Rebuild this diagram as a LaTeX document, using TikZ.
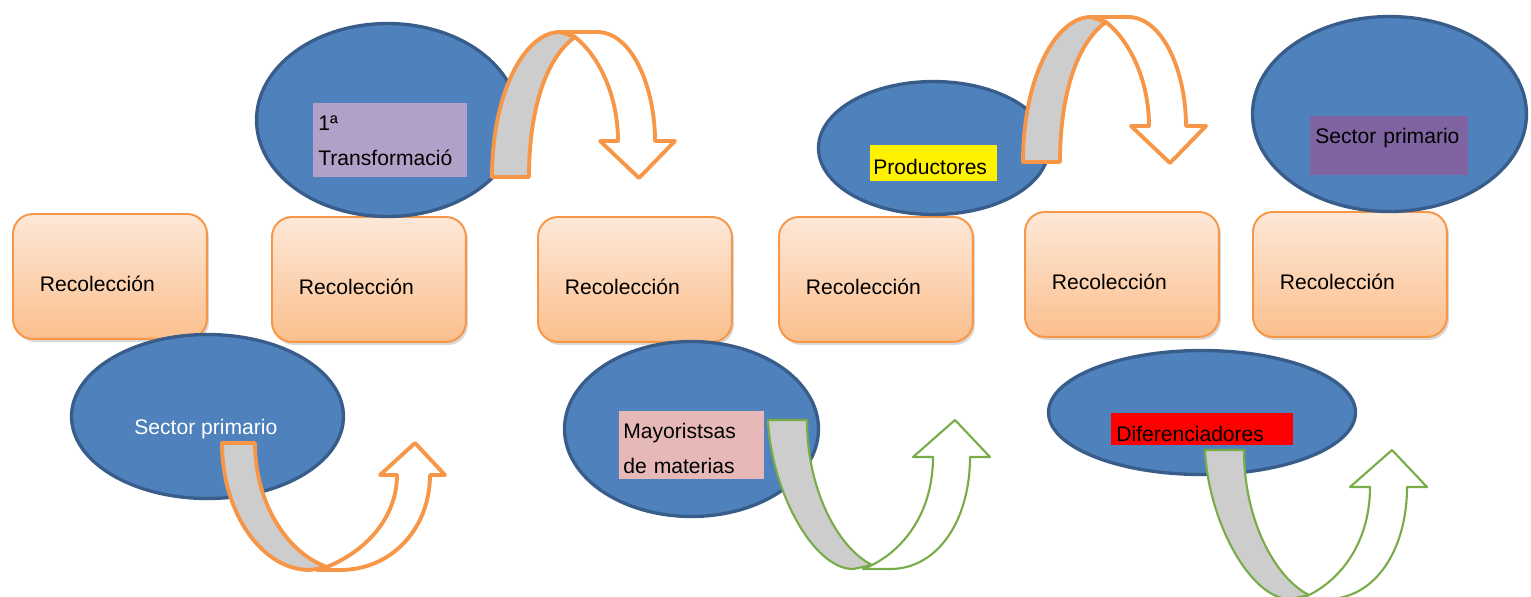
\documentclass[tikz,border=0pt]{standalone}
\usepackage{fontspec}
\setmainfont{Liberation Sans}
\usetikzlibrary{shapes.geometric,shadows}

\definecolor{azul}{HTML}{4F81BD}
\definecolor{azulborde}{HTML}{385D8A}
\definecolor{naranja}{HTML}{F79646}
\definecolor{verde}{HTML}{77AC48}
\definecolor{gris}{HTML}{CDCDCD}
\definecolor{lila}{HTML}{B1A0C7}
\definecolor{rosa}{HTML}{E6B9B8}
\definecolor{morado}{HTML}{8064A2}
\definecolor{melocotonA}{HTML}{FDE8D8}
\definecolor{melocotonB}{HTML}{FBBF8D}

\begin{document}
\begin{tikzpicture}[x=0.02cm, y=-0.02cm, font=\fontsize{12}{19.8}\selectfont,
    caja/.style={draw=naranja, line width=1.1pt, rounded corners=0.4cm,
        top color=melocotonA, bottom color=melocotonB,
        drop shadow={opacity=0.3, shadow xshift=0.04cm, shadow yshift=-0.06cm},
        anchor=north west, text width=2.8cm, inner xsep=0.54cm, inner ysep=0pt,
        align=left, text height=1.56cm, text depth=0.94cm},
    elipse/.style={ellipse, fill=azul, draw=azulborde, line width=1.9pt, inner sep=0pt},
    etiqueta/.style={anchor=north west, inner ysep=0pt, align=left},
    flechanar/.style={draw=naranja, line width=2.2pt, line join=round},
    flechaver/.style={draw=verde, line width=1.2pt, line join=round}]

    \useasboundingbox (0,0) rectangle (1531,596);
    \clip (0,0) rectangle (1531,596);

    % cajas
    \node[caja] (caja1) at (12,213) {Recolección};
    \node[caja] (caja2) at (271,216) {Recolección};
    \node[caja] (caja3) at (537,216) {Recolección};
    \node[caja] (caja4) at (778,216) {Recolección};
    \node[caja] (caja5) at (1024,211) {Recolección};
    \node[caja] (caja6) at (1252,211) {Recolección};

    % elipses
    \node[elipse, minimum width=5.24cm, minimum height=3.86cm] (elip1) at (387.5,120) {};
    \node[elipse, minimum width=5.44cm, minimum height=3.28cm] (elip2) at (207.5,416.5) {};
    \node[elipse, minimum width=5.08cm, minimum height=3.5cm] (elip3) at (691.5,429) {};
    \node[elipse, minimum width=4.6cm, minimum height=2.66cm] (elip4) at (933.5,148) {};
    \node[elipse, minimum width=6.14cm, minimum height=2.48cm] (elip5) at (1202,412.5) {};
    \node[elipse, minimum width=5.48cm, minimum height=3.9cm] (elip6) at (1389.5,114) {};

    % etiquetas
    \node[etiqueta, fill=lila, inner xsep=0.1cm, text width=2.88cm,
        text height=0.54cm, text depth=0.94cm] (transf) at (313,103) {1ª\\Transformació};
    \node[anchor=base west, inner sep=0pt, text=white] (sector) at (134,434) {Sector primario};
    \node[etiqueta, fill=rosa, inner xsep=0.08cm, text width=2.74cm,
        text height=0.54cm, text depth=0.82cm] (mayor) at (619,411) {Mayoristsas\\de materias};
    \node[etiqueta, fill=yellow, inner xsep=0.06cm, text width=2.42cm,
        text height=0.58cm, text depth=0.14cm] (prod) at (870,145) {Productores};
    \node[etiqueta, fill=red, inner xsep=0.1cm, text width=3.44cm,
        text height=0.56cm, text depth=0.08cm] (difer) at (1111,413) {Diferenciadores};
    \node[etiqueta, fill=morado, inner xsep=0.1cm, text width=2.96cm,
        text height=0.54cm, text depth=0.64cm] (sectorb) at (1310,116) {Sector primario};

    % flechas de arriba
    \begin{scope}[shift={(492,177)}]
        \draw[flechanar, fill=white] (68,-145) -- (105,-145) .. controls (140,-145) and (163,-90) .. (163,-36)
            -- (183,-36) -- (147,1) -- (108,-36) -- (126,-36) .. controls (126,-80) and (108,-120) .. (83,-140) -- cycle;
        \draw[flechanar, fill=gris] (0,0) .. controls (0,-85) and (33,-145) .. (68,-145) -- (83,-140)
            .. controls (55,-120) and (37,-70) .. (37,0) -- cycle;
    \end{scope}
    \begin{scope}[shift={(1023,162)}]
        \draw[flechanar, fill=white] (68,-145) -- (105,-145) .. controls (140,-145) and (163,-90) .. (163,-36)
            -- (183,-36) -- (147,1) -- (108,-36) -- (126,-36) .. controls (126,-80) and (108,-120) .. (83,-140) -- cycle;
        \draw[flechanar, fill=gris] (0,0) .. controls (0,-85) and (33,-145) .. (68,-145) -- (83,-140)
            .. controls (55,-120) and (37,-70) .. (37,0) -- cycle;
    \end{scope}

    % flechas de abajo
    \begin{scope}[shift={(222,443)}]
        \draw[flechanar, fill=white] (105,124) .. controls (150,105) and (175,70) .. (175,32) -- (158,32)
            -- (193,0) -- (223,32) -- (208,32) .. controls (208,85) and (170,127) .. (118,127) -- (95,127) -- cycle;
        \draw[flechanar, fill=gris] (0,0) -- (33,0) .. controls (33,60) and (65,110) .. (105,124) -- (88,127)
            .. controls (40,127) and (0,70) .. (0,0) -- cycle;
    \end{scope}
    \begin{scope}[shift={(768,420)}]
        \draw[flechaver, fill=white] (104,145) .. controls (138,128) and (165,90) .. (165,37) -- (145,37)
            -- (187,0) -- (222,37) -- (202,37) .. controls (202,100) and (170,149) .. (122,149) -- (95,149) -- cycle;
        \draw[flechaver, fill=gris] (0,0) -- (39,0) .. controls (39,70) and (70,128) .. (104,145) -- (85,149)
            .. controls (45,149) and (3,70) .. (0,0) -- cycle;
    \end{scope}
    \begin{scope}[shift={(1205,450)}]
        \draw[flechaver, fill=white] (104,145) .. controls (138,128) and (165,90) .. (165,37) -- (145,37)
            -- (187,0) -- (222,37) -- (202,37) .. controls (202,100) and (170,149) .. (122,149) -- (95,149) -- cycle;
        \draw[flechaver, fill=gris] (0,0) -- (39,0) .. controls (39,70) and (70,128) .. (104,145) -- (85,149)
            .. controls (45,149) and (3,70) .. (0,0) -- cycle;
    \end{scope}
\end{tikzpicture}
\end{document}
